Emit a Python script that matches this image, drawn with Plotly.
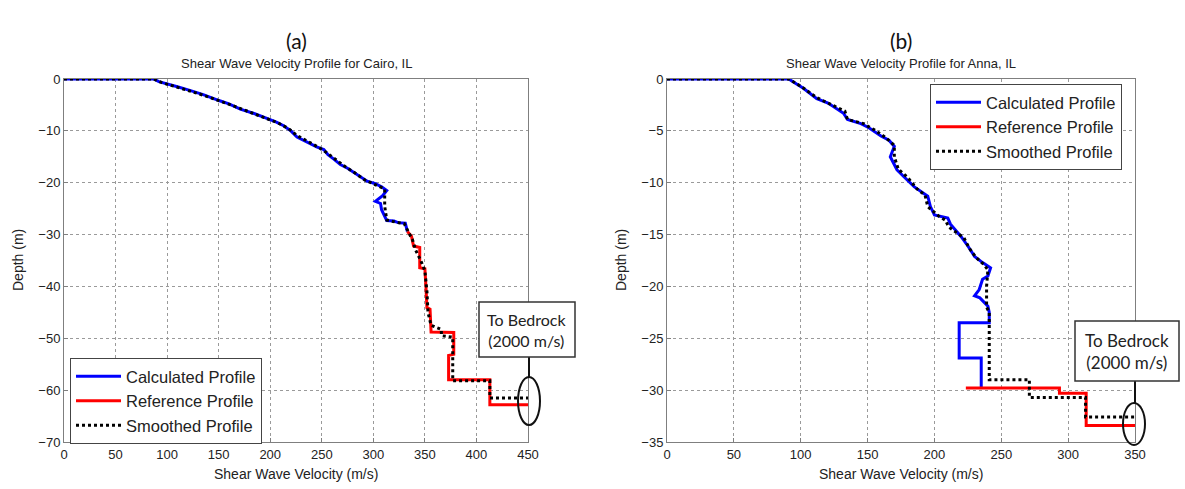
import plotly.graph_objects as go

W, H = 1185, 489

# ---- Cairo, IL (panel a) ----
cairo_calc_v = [0, 87, 92, 100, 110, 122, 135, 151, 160, 171, 185, 198, 206, 213, 220, 226, 236, 245,
                252, 256, 262, 268, 275, 281, 288, 294, 302, 308, 313, 309, 302, 307, 308, 311, 313,
                320, 324, 331, 333]
cairo_calc_d = [0, 0, -0.5, -1, -1.5, -2.2, -3, -4.2, -4.8, -5.8, -6.7, -7.7, -8.3, -9, -10, -11.2, -12.2,
                -13.1, -13.6, -14.6, -15.5, -16.5, -17.2, -18, -19, -19.7, -20.2, -20.8, -21.5, -22.5,
                -23.6, -24, -25.2, -26.5, -27.3, -27.4, -27.7, -27.8, -29.4]

cairo_ref_v = [333, 337, 339, 345, 345, 350, 351, 352, 355, 356, 378, 378, 373, 373, 413, 413, 450]
cairo_ref_d = [-29.4, -30.3, -32.2, -32.5, -36.4, -36.6, -40, -44.1, -44.4, -48.8, -48.9, -53.1,
               -53.3, -58, -58, -62.8, -62.8]

cairo_smooth_v = [0, 87, 95, 105, 118, 130, 145, 158, 170, 183, 196, 208, 218, 226, 238, 248, 256, 265,
                  272, 282, 292, 302, 311, 311, 313, 322, 330, 334, 338, 341, 346, 350, 352, 353, 356,
                  366, 366, 377, 377, 413, 413, 450]
cairo_smooth_d = [0, 0, -0.7, -1.3, -2, -2.8, -3.8, -4.7, -5.6, -6.6, -7.6, -8.5, -9.6, -10.9, -12.2,
                  -13.3, -14.4, -15.8, -16.8, -18.1, -19.5, -20.4, -21.2, -24.5, -27.2, -27.6, -27.9,
                  -29.5, -31, -33, -35, -37, -41, -45, -47.5, -48.3, -49.5, -49.8, -58.2, -58.2, -61.5,
                  -61.5]

# ---- Anna, IL (panel b) ----
anna_calc_v = [0, 91, 96, 102, 112, 120, 125, 132, 135, 145, 151, 160, 166, 170, 167, 172, 177, 185,
               195, 197, 200, 210, 212, 220, 225, 230, 236, 242, 240, 236, 233.5, 230, 234, 240, 241,
               241, 218.5, 218.5, 235, 235]
anna_calc_d = [0, 0, -0.4, -0.9, -1.9, -2.3, -2.7, -3.3, -3.9, -4.3, -4.7, -5.5, -5.9, -6.5, -7.5,
               -8.75, -9.4, -10.4, -11.3, -12.3, -13.1, -13.4, -14, -15.2, -16.1, -17.1, -17.7, -18.2,
               -19, -19.3, -20.3, -20.9, -21.1, -21.9, -22.5, -23.5, -23.5, -26.9, -26.9, -29.8]

anna_ref_v = [223.5, 293.5, 293.5, 313.5, 313.5, 350]
anna_ref_d = [-29.8, -29.8, -30.3, -30.3, -33.4, -33.4]

anna_smooth_v = [0, 91, 100, 112, 125, 133, 135, 147, 155, 163, 170, 170, 173, 180, 187, 193, 195,
                 203, 208, 211, 222, 226, 231, 237, 240, 239, 239, 241, 241, 271, 271, 313, 313, 350]
anna_smooth_d = [0, 0, -0.7, -1.8, -2.6, -3.1, -3.9, -4.3, -4.9, -5.6, -6.4, -7.5, -8.7, -9.5, -10.6,
                 -11.2, -12.3, -13.2, -13.6, -14.3, -15.3, -16.3, -17.2, -17.9, -18.4, -20, -22, -22.5,
                 -29, -29, -30.7, -30.7, -32.6, -32.6]

x_ticks_a = [0, 50, 100, 150, 200, 250, 300, 350, 400, 450]
y_ticks_a = [0, -10, -20, -30, -40, -50, -60, -70]
x_ticks_b = [0, 50, 100, 150, 200, 250, 300, 350]
y_ticks_b = [0, -5, -10, -15, -20, -25, -30, -35]

series_names = ["Calculated Profile", "Reference Profile", "Smoothed Profile"]
BLUE, RED, BLACK = "#0000ff", "#ff0000", "#000000"
FONT = "Liberation Sans, Arial, sans-serif"
BOX_FONT = "Lato, sans-serif"


def px(x):
    return x / W


def py(y):
    return 1 - y / H


fig = go.Figure()


def add_panel(xa, ya, legend, calc, ref, smooth):
    specs = [(calc, BLUE, "solid", 3), (ref, RED, "solid", 3), (smooth, BLACK, "dot", 3)]
    for name, (xy, color, dash, width) in zip(series_names, specs):
        fig.add_trace(go.Scatter(
            x=xy[0], y=xy[1], mode="lines", name=name,
            line=dict(color=color, width=width, dash=dash),
            xaxis=xa, yaxis=ya, legend=legend,
        ))


add_panel("x", "y", "legend", (cairo_calc_v, cairo_calc_d), (cairo_ref_v, cairo_ref_d),
          (cairo_smooth_v, cairo_smooth_d))
add_panel("x2", "y2", "legend2", (anna_calc_v, anna_calc_d), (anna_ref_v, anna_ref_d),
          (anna_smooth_v, anna_smooth_d))

axis_common = dict(
    showline=True, mirror=True, linecolor="#7f7f7f", linewidth=1,
    ticks="inside", ticklen=4, tickcolor="#7f7f7f",
    showgrid=True, gridcolor="#9a9a9a", griddash="dot", gridwidth=1,
    zeroline=False, tickfont=dict(family=FONT, size=13, color="#222222"),
    fixedrange=True, automargin=False,
)

y_bottom, y_top = py(442), py(79)

legend_common = dict(
    xanchor="left", yanchor="top",
    bgcolor="white", bordercolor="#444444", borderwidth=1,
    font=dict(family=FONT, size=16.5, color="#222222"),
    tracegroupgap=0, itemwidth=45,
)

fig.update_layout(
    width=W, height=H,
    margin=dict(l=0, r=0, t=0, b=0, pad=0, autoexpand=False),
    paper_bgcolor="white", plot_bgcolor="white",
    xaxis=dict(domain=[px(64), px(528)], range=[0, 450], tickvals=x_ticks_a, anchor="y", **axis_common),
    yaxis=dict(domain=[y_bottom, y_top], range=[-70, 0], tickvals=y_ticks_a, anchor="x", **axis_common),
    xaxis2=dict(domain=[px(667), px(1135)], range=[0, 350], tickvals=x_ticks_b, anchor="y2", **axis_common),
    yaxis2=dict(domain=[y_bottom, y_top], range=[-35, 0], tickvals=y_ticks_b, anchor="x2", **axis_common),
    legend=dict(x=px(70), y=py(358), **legend_common),
    legend2=dict(x=px(930), y=py(84), **legend_common),
    showlegend=True,
)

annotations = []
shapes = []


def label(x, y, text, size, family=FONT, color="#222222", angle=0):
    annotations.append(dict(x=px(x), y=py(y), xref="paper", yref="paper", text=text,
                            xanchor="center", yanchor="middle", textangle=angle,
                            showarrow=False, font=dict(family=family, size=size, color=color)))


# panel labels, titles and axis titles
for cx, letter, title in [(296, "(a)", "Shear Wave Velocity Profile for Cairo, IL"),
                          (901, "(b)", "Shear Wave Velocity Profile for Anna, IL")]:
    label(cx, 40, letter, 21, family=BOX_FONT, color="#111111")
    label(cx, 63, title, 13)
    label(cx, 474, "Shear Wave Velocity (m/s)", 14)

for lx in [18, 621]:
    label(lx, 260, "Depth (m)", 14, angle=-90)

# bedrock call-outs: box, connector and ellipse
callouts = [
    dict(box=(479, 302, 575, 357), line=(529, 357, 529, 377), ell=(518, 377, 540, 425), size=16),
    dict(box=(1075, 321, 1179, 381), line=(1135, 381, 1135, 403), ell=(1123, 403, 1145, 445), size=17),
]
for c in callouts:
    x0, y0, x1, y1 = c["box"]
    shapes.append(dict(type="line", xref="paper", yref="paper",
                       x0=px(c["line"][0]), y0=py(c["line"][1]), x1=px(c["line"][2]), y1=py(c["line"][3]),
                       line=dict(color="#111111", width=2)))
    ex0, ey0, ex1, ey1 = c["ell"]
    shapes.append(dict(type="circle", xref="paper", yref="paper",
                       x0=px(ex0), y0=py(ey1), x1=px(ex1), y1=py(ey0),
                       line=dict(color="#111111", width=2)))
    shapes.append(dict(type="rect", xref="paper", yref="paper",
                       x0=px(x0), y0=py(y1), x1=px(x1), y1=py(y0),
                       fillcolor="white", line=dict(color="#333333", width=1.5)))
    label((x0 + x1) / 2, (y0 + y1) / 2, "To Bedrock<br>(2000 m/s)", c["size"], family=BOX_FONT)

fig.update_layout(annotations=annotations, shapes=shapes)

fig.write_html("out.html")
